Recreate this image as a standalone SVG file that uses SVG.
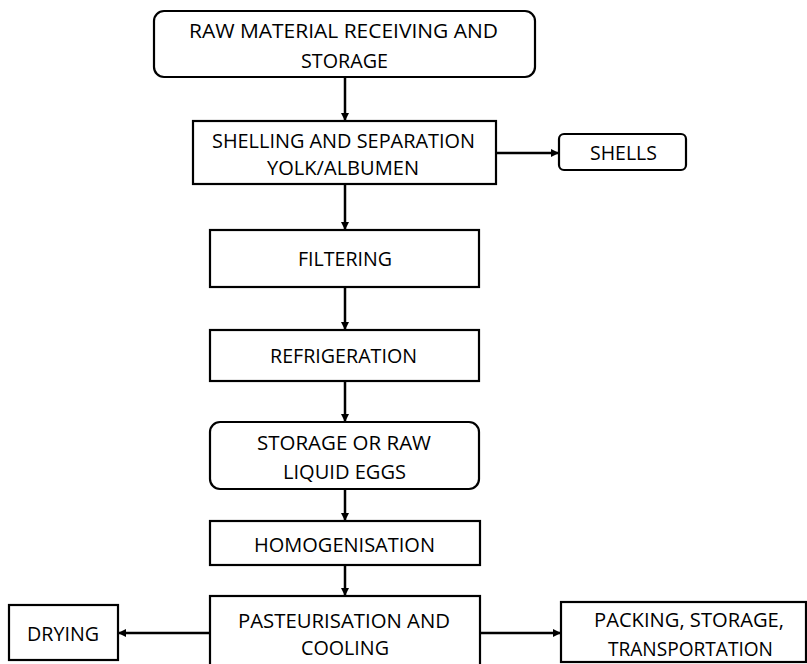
<svg xmlns="http://www.w3.org/2000/svg" width="807" height="664" viewBox="0 0 807 664">
<defs>
<style>
.box{fill:#fff;stroke:#000;stroke-width:2.2}
.t{font-family:"Open Sans","Liberation Sans",Arial,sans-serif;font-size:20px;fill:#000;text-anchor:middle}
.c{stroke:#000;stroke-width:2.5;fill:none;marker-end:url(#ah)}
</style>
<marker id="ah" markerWidth="8" markerHeight="8" refX="7" refY="4" orient="auto" markerUnits="userSpaceOnUse">
<path d="M0,0 L8,4 L0,8 Z" fill="#000"/>
</marker>
</defs>
<rect width="807" height="664" fill="#fff"/>
<g id="connectors">
<line class="c" x1="345" y1="77" x2="345" y2="120"/>
<line class="c" x1="345" y1="184" x2="345" y2="229"/>
<line class="c" x1="345" y1="287" x2="345" y2="329"/>
<line class="c" x1="345" y1="381" x2="345" y2="421"/>
<line class="c" x1="345" y1="489" x2="345" y2="520"/>
<line class="c" x1="345" y1="565" x2="345" y2="595"/>
<line class="c" x1="496" y1="153" x2="558" y2="153"/>
<line class="c" x1="210" y1="633" x2="119" y2="633"/>
<line class="c" x1="480" y1="633" x2="560" y2="633"/>
</g>
<g id="raw-material">
<rect class="box" x="154" y="11" width="381" height="66" rx="10"/>
<text class="t" x="343.5" y="38" textLength="309" lengthAdjust="spacingAndGlyphs">RAW MATERIAL RECEIVING AND</text>
<text class="t" x="344.5" y="68" textLength="87" lengthAdjust="spacingAndGlyphs">STORAGE</text>
</g>
<g id="shelling">
<rect class="box" x="193" y="121" width="303" height="63"/>
<text class="t" x="343.5" y="148" textLength="263" lengthAdjust="spacingAndGlyphs">SHELLING AND SEPARATION</text>
<text class="t" x="343" y="175" textLength="152" lengthAdjust="spacingAndGlyphs">YOLK/ALBUMEN</text>
</g>
<g id="shells">
<rect class="box" x="559" y="134" width="127" height="36" rx="5"/>
<text class="t" x="623.5" y="160" textLength="67" lengthAdjust="spacingAndGlyphs">SHELLS</text>
</g>
<g id="filtering">
<rect class="box" x="210" y="230" width="269" height="57"/>
<text class="t" x="345" y="266" textLength="94" lengthAdjust="spacingAndGlyphs">FILTERING</text>
</g>
<g id="refrigeration">
<rect class="box" x="210" y="330" width="269" height="51"/>
<text class="t" x="343.5" y="363" textLength="147" lengthAdjust="spacingAndGlyphs">REFRIGERATION</text>
</g>
<g id="storage-raw">
<rect class="box" x="210" y="422" width="269" height="67" rx="10"/>
<text class="t" x="344" y="450" textLength="174" lengthAdjust="spacingAndGlyphs">STORAGE OR RAW</text>
<text class="t" x="344.5" y="479" textLength="123" lengthAdjust="spacingAndGlyphs">LIQUID EGGS</text>
</g>
<g id="homogenisation">
<rect class="box" x="210" y="521" width="270" height="44"/>
<text class="t" x="344.5" y="552" textLength="181" lengthAdjust="spacingAndGlyphs">HOMOGENISATION</text>
</g>
<g id="pasteurisation">
<rect class="box" x="210" y="596" width="270" height="80"/>
<text class="t" x="344" y="628" textLength="212" lengthAdjust="spacingAndGlyphs">PASTEURISATION AND</text>
<text class="t" x="345" y="655" textLength="88" lengthAdjust="spacingAndGlyphs">COOLING</text>
</g>
<g id="drying">
<rect class="box" x="9" y="605" width="109" height="55"/>
<text class="t" x="63" y="641" textLength="72" lengthAdjust="spacingAndGlyphs">DRYING</text>
</g>
<g id="packing">
<rect class="box" x="561" y="602" width="245" height="60"/>
<text class="t" x="689" y="627" textLength="190" lengthAdjust="spacingAndGlyphs">PACKING, STORAGE,</text>
<text class="t" x="690.5" y="656" textLength="165" lengthAdjust="spacingAndGlyphs">TRANSPORTATION</text>
</g>
</svg>
